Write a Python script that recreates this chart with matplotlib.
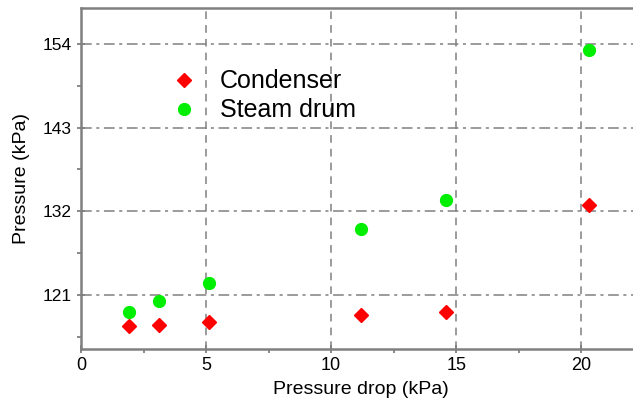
import matplotlib.pyplot as plt
from matplotlib.ticker import MultipleLocator

plt.rcParams['font.family'] = ['Liberation Sans', 'DejaVu Sans']

# Pressure drop (kPa) for each measurement
drop = [1.9, 3.1, 5.1, 11.2, 14.6, 20.3]
# Pressures (kPa)
condenser = [116.9, 117.05, 117.45, 118.4, 118.8, 132.8]
steam_drum = [118.8, 120.2, 122.6, 129.7, 133.5, 153.2]

fig = plt.figure(figsize=(6.33, 4.09), dpi=100)
ax = fig.add_axes([0.128, 0.147, 0.885, 0.833])

grey = '#808080'

ax.plot(drop, condenser, linestyle='none', marker='D', markersize=7.5,
        color='#ff0000', label='Condenser')
ax.plot(drop, steam_drum, linestyle='none', marker='o', markersize=8.5,
        color='#00ee00', label='Steam drum')

ax.set_xlim(0, 22.4)
ax.set_ylim(113.9, 158.7)
ax.xaxis.set_major_locator(MultipleLocator(5))
ax.xaxis.set_minor_locator(MultipleLocator(2.5))
ax.set_yticks([121, 132, 143, 154])
ax.yaxis.set_minor_locator(MultipleLocator(5.5))

# grid lines
ax.xaxis.grid(True, linestyle=(0, (5, 4)), color=grey, linewidth=1.1)
ax.yaxis.grid(True, linestyle=(0, (7, 3, 2, 3)), color=grey, linewidth=1.1)
ax.set_axisbelow(True)

for side in ['left', 'bottom', 'top']:
    ax.spines[side].set_color(grey)
    ax.spines[side].set_linewidth(1.8)
ax.spines['right'].set_visible(False)

ax.tick_params(which='major', direction='inout', length=6, width=1.3, color=grey)
ax.tick_params(which='minor', direction='out', length=3, width=1.3, color=grey)
ax.tick_params(axis='x', which='major', labelsize=13, pad=3)
ax.tick_params(axis='y', which='major', labelsize=12.5, pad=4)

ax.set_xlabel('Pressure drop (kPa)', fontsize=14, labelpad=5)
ax.set_ylabel('Pressure (kPa)', fontsize=14, labelpad=9)

ax.legend(loc='upper left', bbox_to_anchor=(0.121, 0.85), frameon=False,
          fontsize=18, handletextpad=0.44, labelspacing=0.2, borderaxespad=0)

fig.savefig('out.png', dpi=100)
